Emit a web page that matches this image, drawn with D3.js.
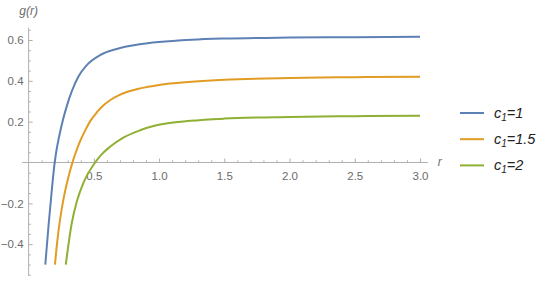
<!DOCTYPE html>
<html>
<head>
<meta charset="utf-8">
<script src="https://cdn.jsdelivr.net/npm/d3@7"></script>
<style>
  body { margin: 0; background: #fff; }
  svg { font-family: "Liberation Sans", Arial, sans-serif; }
</style>
</head>
<body>
<div id="chart"></div>
<script>
// values: g(r) for three values of c1
const seriesNames = ["1", "1.5", "2"];
const colors = ["#5e81b5", "#e19c24", "#8fb032"];

const rBlue = [0.128, 0.154, 0.183, 0.2, 0.215, 0.235, 0.254, 0.292, 0.33, 0.381, 0.446, 0.548, 0.676, 0.854, 1.0, 1.25, 1.5, 2.0, 2.5, 3.0];
const gBlue = [-0.5, -0.3, -0.1, 0, 0.065, 0.13, 0.185, 0.275, 0.347, 0.42, 0.477, 0.526, 0.556, 0.579, 0.59, 0.601, 0.607, 0.612, 0.614, 0.616];

const rOrange = [0.202, 0.22, 0.24, 0.26, 0.28, 0.30, 0.32, 0.34, 0.365, 0.394, 0.432, 0.475, 0.522, 0.57, 0.624, 0.69, 0.752, 0.854, 1.0, 1.25, 1.5, 2.0, 2.5, 3.0];
const gOrange = [-0.5, -0.385, -0.285, -0.205, -0.14, -0.085, -0.036, 0.008, 0.055, 0.103, 0.155, 0.205, 0.245, 0.278, 0.305, 0.329, 0.345, 0.363, 0.38, 0.395, 0.405, 0.414, 0.418, 0.42];

const rGreen = [0.285, 0.33, 0.37, 0.42, 0.51, 0.56, 0.624, 0.726, 0.855, 0.98, 1.24, 1.5, 2.0, 2.5, 3.0];
const gGreen = [-0.5, -0.3, -0.19, -0.1, 0, 0.04, 0.077, 0.122, 0.158, 0.182, 0.204, 0.215, 0.223, 0.227, 0.229];

const xTicks = [0.5, 1.0, 1.5, 2.0, 2.5, 3.0];
const yTicks = [-0.4, -0.2, 0.2, 0.4, 0.6];

const width = 545, height = 281;

const x = d3.scaleLinear().domain([0, 3]).range([28.6, 420]);
const y = d3.scaleLinear().domain([0, 0.6]).range([162.5, 40]);

const svg = d3.select("#chart").append("svg")
  .attr("width", width)
  .attr("height", height);

const axisColor = "#b0b0b0";
const labelColor = "#6b6b6b";

// minor ticks
const xMinor = d3.range(1, 31).map(i => i / 10).filter(v => Math.abs(v * 2 - Math.round(v * 2)) > 1e-6);
const yMinor = d3.range(-11, 14).map(i => i / 20).filter(v => Math.abs(v * 5 - Math.round(v * 5)) > 1e-6);

svg.append("g")
  .attr("transform", `translate(0,${y(0)})`)
  .call(d3.axisBottom(x).tickValues(xMinor).tickSize(-2.2).tickFormat(""))
  .call(g => g.select(".domain").remove())
  .call(g => g.selectAll("line").attr("stroke", axisColor));

svg.append("g")
  .attr("transform", `translate(${x(0)},0)`)
  .call(d3.axisLeft(y).tickValues(yMinor).tickSize(-2.2).tickFormat(""))
  .call(g => g.select(".domain").remove())
  .call(g => g.selectAll("line").attr("stroke", axisColor));

// major ticks
svg.append("g")
  .attr("transform", `translate(0,${y(0)})`)
  .call(d3.axisBottom(x).tickValues(xTicks).tickSize(-4).tickPadding(9).tickFormat(d3.format(".1f")))
  .call(g => g.select(".domain").remove())
  .call(g => g.selectAll("line").attr("stroke", axisColor))
  .call(g => g.selectAll("text").attr("fill", labelColor).attr("font-size", 11.5)
    .attr("font-family", "Liberation Sans, Arial, sans-serif"));

svg.append("g")
  .attr("transform", `translate(${x(0)},0)`)
  .call(d3.axisLeft(y).tickValues(yTicks).tickSize(-4).tickPadding(5).tickFormat(d3.format(".1f")))
  .call(g => g.select(".domain").remove())
  .call(g => g.selectAll("line").attr("stroke", axisColor))
  .call(g => g.selectAll("text").attr("fill", labelColor).attr("font-size", 11.5)
    .attr("font-family", "Liberation Sans, Arial, sans-serif"));

// axis lines
svg.append("line")
  .attr("x1", x(-0.05)).attr("x2", x(3.06))
  .attr("y1", y(0)).attr("y2", y(0))
  .attr("stroke", axisColor);
svg.append("line")
  .attr("x1", x(0)).attr("x2", x(0))
  .attr("y1", y(0.66)).attr("y2", y(-0.555))
  .attr("stroke", axisColor);

// axis labels
svg.append("text")
  .attr("x", x(3.06) + 10).attr("y", y(0) + 3)
  .attr("fill", labelColor).attr("font-size", 12).attr("font-style", "italic")
  .text("r");
svg.append("text")
  .attr("x", x(0)).attr("y", 15)
  .attr("text-anchor", "middle")
  .attr("fill", labelColor).attr("font-size", 12).attr("font-style", "italic")
  .text("g(r)");

// curves
const series = [
  { r: rBlue, g: gBlue },
  { r: rOrange, g: gOrange },
  { r: rGreen, g: gGreen }
];

const line = d3.line()
  .x(d => x(d[0]))
  .y(d => y(d[1]))
  .curve(d3.curveMonotoneX);

series.forEach((s, i) => {
  svg.append("path")
    .datum(s.r.map((r, j) => [r, s.g[j]]))
    .attr("d", line)
    .attr("fill", "none")
    .attr("stroke", colors[i])
    .attr("stroke-width", 2);
});

// legend
const legend = svg.append("g").attr("transform", "translate(460,113)");
seriesNames.forEach((name, i) => {
  const row = legend.append("g").attr("transform", `translate(0,${i * 26.2})`);
  row.append("line")
    .attr("x1", 0).attr("x2", 24)
    .attr("stroke", colors[i]).attr("stroke-width", 2);
  const t = row.append("text")
    .attr("x", 34).attr("y", 5)
    .attr("font-size", 14.5).attr("font-style", "italic")
    .attr("fill", "#222");
  t.append("tspan").text("c");
  t.append("tspan").attr("font-size", 10).attr("dy", 3).text("1");
  t.append("tspan").attr("dy", -3).text("=" + name);
});
</script>
</body>
</html>
